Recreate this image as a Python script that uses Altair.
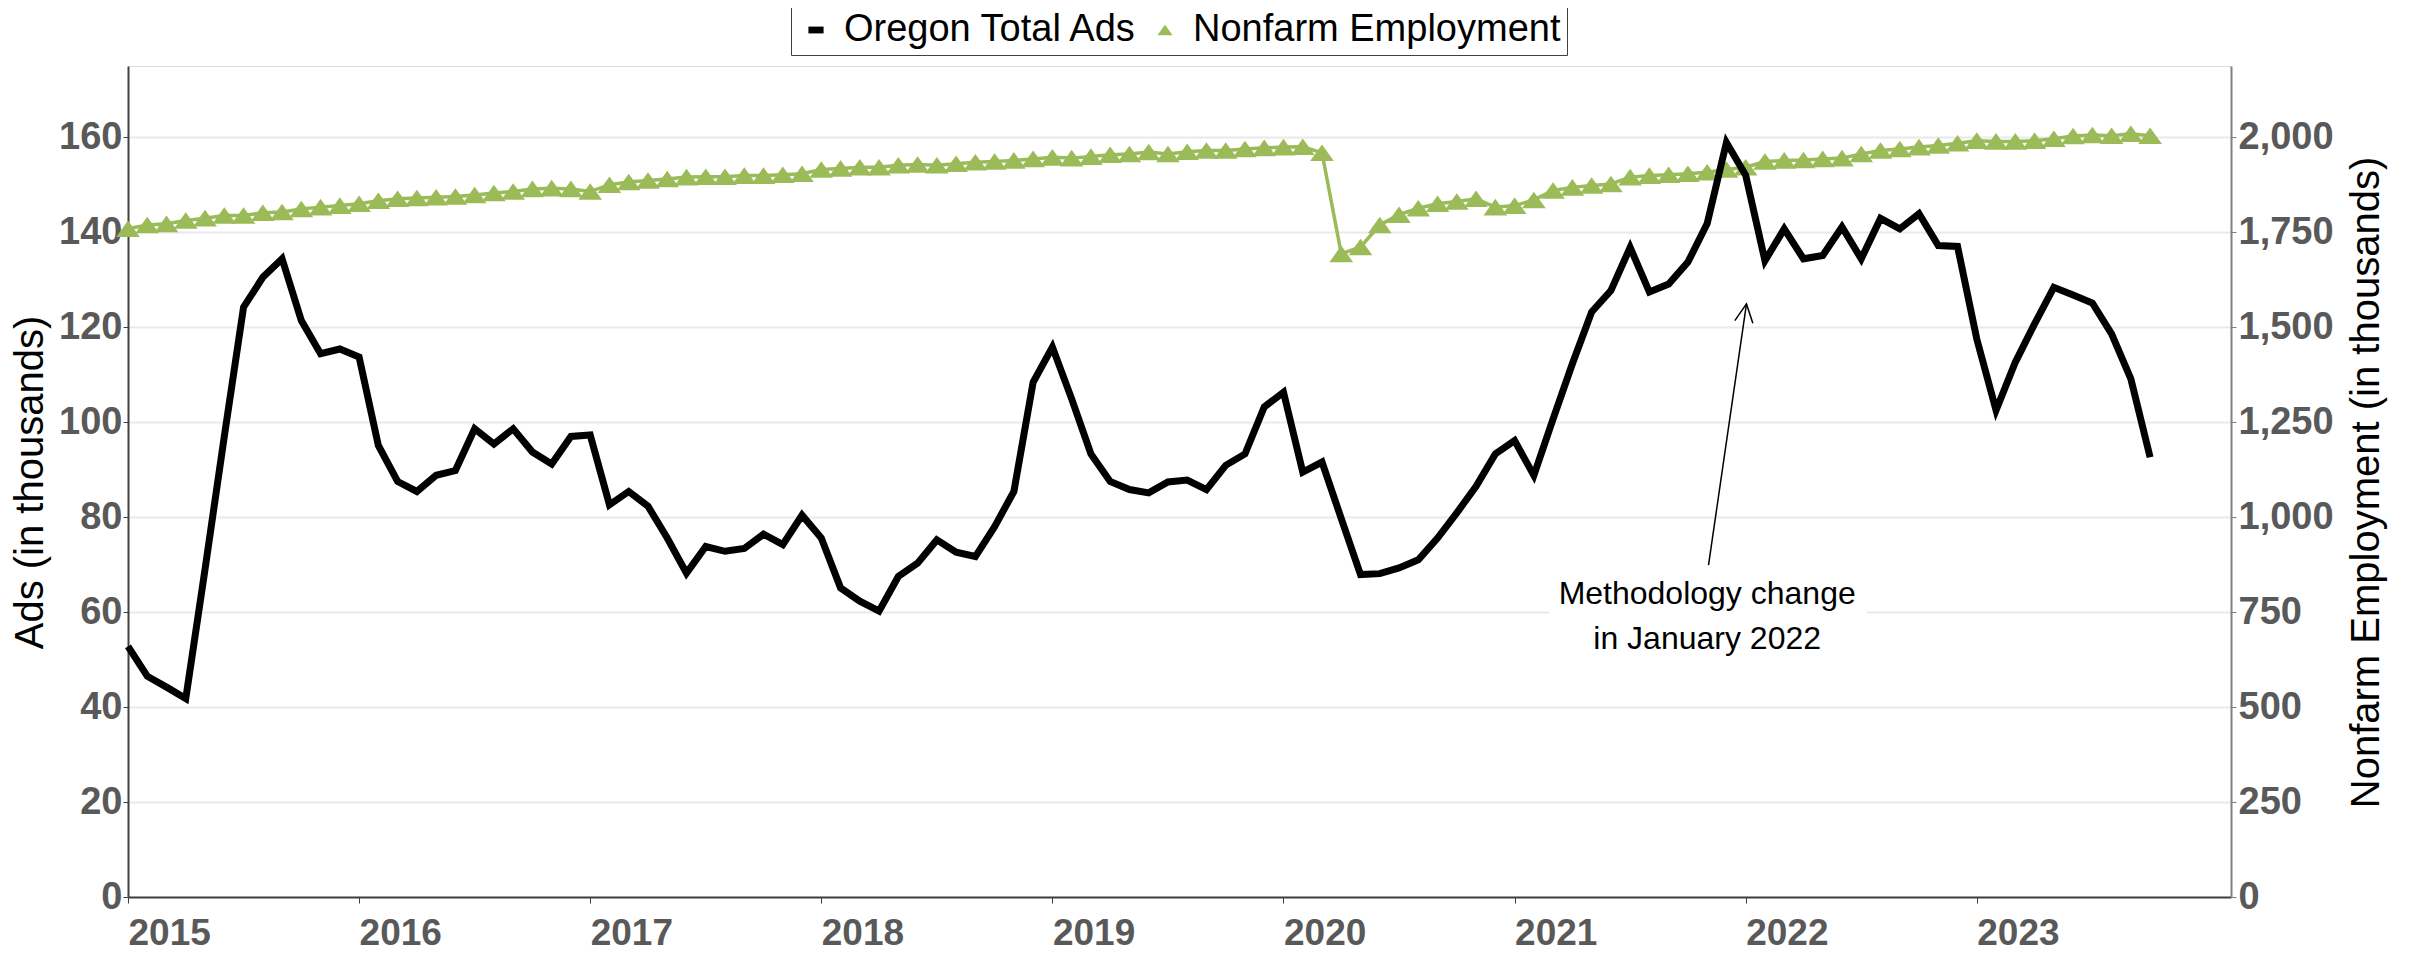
import altair as alt
import pandas as pd

# ---- data ----
start_year = 2015
year_labels = [2015, 2016, 2017, 2018, 2019, 2020, 2021, 2022, 2023]

ads = [52.8, 46.5, 44.2, 41.8, 69.0, 97.0, 124.2, 130.5, 134.4, 121.4, 114.4, 115.4,
       113.7, 95.1, 87.5, 85.4, 88.8, 89.8, 98.6, 95.4, 98.6, 93.7, 91.2, 97.0,
       97.3, 82.6, 85.4, 82.3, 75.6, 68.2, 73.8, 72.8, 73.4, 76.4, 74.2, 80.4,
       75.6, 65.1, 62.3, 60.2, 67.5, 70.3, 75.2, 72.6, 71.7, 78.0, 85.4, 108.4,
       115.8, 104.9, 93.3, 87.5, 85.8, 85.1, 87.4, 87.8, 85.8, 90.9, 93.3, 103.2,
       106.3, 89.5, 91.6, 79.7, 67.9, 68.1, 69.3, 71.0, 75.6, 80.9, 86.5, 93.3,
       96.1, 88.8, 100.7, 112.3, 123.2, 127.7, 136.8, 127.4, 129.1, 133.7, 141.8, 158.9,
       152.0, 134.0, 140.7, 134.4, 135.1, 141.1, 134.4, 142.9, 140.7, 143.9, 137.2, 137.0,
       117.5, 102.5, 112.6, 120.7, 128.4, 126.8, 125.1, 118.6, 109.1, 92.6]

emp = [1759, 1769, 1772, 1781, 1787, 1794, 1794, 1801, 1803, 1811, 1816, 1820,
       1825, 1833, 1838, 1840, 1842, 1844, 1848, 1853, 1857, 1864, 1866, 1864,
       1857, 1875, 1882, 1886, 1890, 1895, 1896, 1896, 1899, 1899, 1901, 1904,
       1915, 1918, 1921, 1921, 1926, 1928, 1926, 1930, 1934, 1936, 1939, 1943,
       1947, 1945, 1949, 1954, 1956, 1961, 1956, 1962, 1965, 1965, 1969, 1972,
       1974, 1975, 1959, 1693, 1711, 1769, 1796, 1813, 1825, 1831, 1838, 1816,
       1820, 1835, 1860, 1868, 1873, 1877, 1895, 1899, 1901, 1904, 1908, 1915,
       1921, 1936, 1939, 1940, 1943, 1945, 1956, 1965, 1969, 1974, 1978, 1984,
       1991, 1989, 1989, 1991, 1996, 2003, 2006, 2004, 2009, 2004]

series_names = ["Oregon Total Ads", "Nonfarm Employment"]
series_colors = ["#000000", "#9BBB59"]

ads_ticks = [0, 20, 40, 60, 80, 100, 120, 140, 160]
emp_ticks = [0, 250, 500, 750, 1000, 1250, 1500, 1750, 2000]

# annotation (in data units: month index / ads thousands)
note_lines = ["Methodology change", "in January 2022"]
note_pos = {"m": 82.0, "v": 61.6}
note_box = {"m": 73.8, "m2": 90.3, "v": 49.0, "v2": 70.0}
arrow = {"m": 82.07, "v": 69.9, "m2": 84.04, "v2": 124.9}

# ---- tables ----
months = list(range(len(ads)))
df = pd.DataFrame({
    "m": months,
    "ads": ads,
    "emp": emp,
    "series_emp": [series_names[1]] * len(emp),
})
box_df = pd.DataFrame([note_box])
note_df = pd.DataFrame([{"m": note_pos["m"], "v": note_pos["v"], "t": "\n".join(note_lines)}])
arrow_df = pd.DataFrame([arrow])

FONT = "Liberation Sans"
GREY = "#595959"

x_scale = alt.Scale(domain=[0, 109.2], nice=False, zero=False)
ads_scale = alt.Scale(domain=[0, 175], nice=False)
emp_scale = alt.Scale(domain=[0, 2187.5], nice=False)

year_values = [(y - start_year) * 12 for y in year_labels]

x_axis = alt.Axis(values=year_values, labelExpr="'' + (2015 + round(datum.value / 12))",
                  labelAlign="left", labelBaseline="top", labelFont=FONT, labelFontSize=37,
                  labelFontWeight="bold", labelColor=GREY, labelPadding=12, tickSize=6,
                  tickColor="#404040", domainColor="#404040", domainWidth=2, grid=False,
                  title=None, labelFlush=False, labelOverlap=False)

left_axis = alt.Axis(values=ads_ticks, orient="left", grid=True, gridColor="#e9e9e9", gridWidth=2,
                     tickSize=5, tickColor="#404040", domainColor="#404040", domainWidth=2,
                     labelPadding=1, labelFont=FONT, labelFontSize=38, labelFontWeight="bold",
                     labelColor=GREY, title="Ads (in thousands)", titleFont=FONT,
                     titleFontSize=40, titleFontWeight="normal", titleColor="black",
                     titleX=-98, titleY=416, titleAngle=270, titleAlign="center",
                     titleBaseline="middle")

right_axis = alt.Axis(values=emp_ticks, orient="right", format=",.0f", grid=False,
                      tickSize=5, tickColor="#808080", domainColor="#808080", domainWidth=2,
                      labelPadding=2, labelFont=FONT, labelFontSize=38, labelFontWeight="bold",
                      labelColor=GREY, title="Nonfarm Employment (in thousands)", titleFont=FONT,
                      titleFontSize=40, titleFontWeight="normal", titleColor="black",
                      titleX=135, titleY=416, titleAngle=270, titleAlign="center",
                      titleBaseline="middle")

base = alt.Chart(df)

ads_line = base.mark_line(color="black", strokeWidth=7, strokeJoin="miter").encode(
    x=alt.X("m:Q", scale=x_scale, axis=x_axis),
    y=alt.Y("ads:Q", scale=ads_scale, axis=left_axis),
)

box = alt.Chart(box_df).mark_rect(color="white").encode(
    x=alt.X("m:Q", scale=x_scale, axis=x_axis), x2="m2:Q",
    y=alt.Y("v:Q", scale=ads_scale, axis=left_axis), y2="v2:Q",
)
note = alt.Chart(note_df).mark_text(font=FONT, fontSize=32, color="black", align="center",
                                    baseline="alphabetic", lineBreak="\n", lineHeight=45).encode(
    x=alt.X("m:Q", scale=x_scale, axis=x_axis),
    y=alt.Y("v:Q", scale=ads_scale, axis=left_axis),
    text="t:N",
)
arrow_line = alt.Chart(arrow_df).mark_rule(color="black", strokeWidth=1.5).encode(
    x=alt.X("m:Q", scale=x_scale, axis=x_axis), x2="m2:Q",
    y=alt.Y("v:Q", scale=ads_scale, axis=left_axis), y2="v2:Q",
)
arrow_head = alt.Chart(arrow_df).mark_point(shape="M-0.5,1L0,0L0.5,1", filled=False,
                                            stroke="black", strokeWidth=1.5, size=1330,
                                            angle=8.3, opacity=1).encode(
    x=alt.X("m2:Q", scale=x_scale, axis=x_axis),
    y=alt.Y("v2:Q", scale=ads_scale, axis=left_axis),
)

TRI = "M-1,0.7L0,-0.7L1,0.7Z"
BAR = "M-1,-0.45L1,-0.45L1,0.45L-1,0.45Z"

emp_line = base.mark_line(color=series_colors[1], strokeWidth=3.5).encode(
    x=alt.X("m:Q", scale=x_scale, axis=x_axis),
    y=alt.Y("emp:Q", scale=emp_scale, axis=right_axis),
)
legend = alt.Legend(title=None, orient="none", legendX=663, legendY=-61, direction="horizontal",
                    padding=6, strokeColor="#404040", fillColor="white", labelFont=FONT,
                    labelFontSize=38, labelColor="black", labelLimit=600, symbolSize=230,
                    labelOffset=9, columnPadding=8, symbolStrokeWidth=0)
emp_pts = base.mark_point(filled=True, size=560, opacity=1, strokeWidth=0).encode(
    x=alt.X("m:Q", scale=x_scale, axis=x_axis),
    y=alt.Y("emp:Q", scale=emp_scale, axis=right_axis),
    color=alt.Color("series_emp:N", scale=alt.Scale(domain=series_names, range=series_colors),
                    legend=legend),
    shape=alt.Shape("series_emp:N", scale=alt.Scale(domain=series_names, range=[BAR, TRI]),
                    legend=legend),
)

left_group = alt.layer(box, note, arrow_line, arrow_head, ads_line)
right_group = alt.layer(emp_line, emp_pts)

chart = alt.layer(right_group, left_group).resolve_scale(y="independent").properties(
    width=2103, height=831,
    autosize=alt.AutoSizeParams(type="none"),
    padding={"left": 120, "top": 58, "right": 178, "bottom": 60},
).configure_view(stroke="#808080", strokeWidth=1.5).configure(font=FONT)

chart.save("out.html", embed_options={"renderer": "svg", "actions": False})
